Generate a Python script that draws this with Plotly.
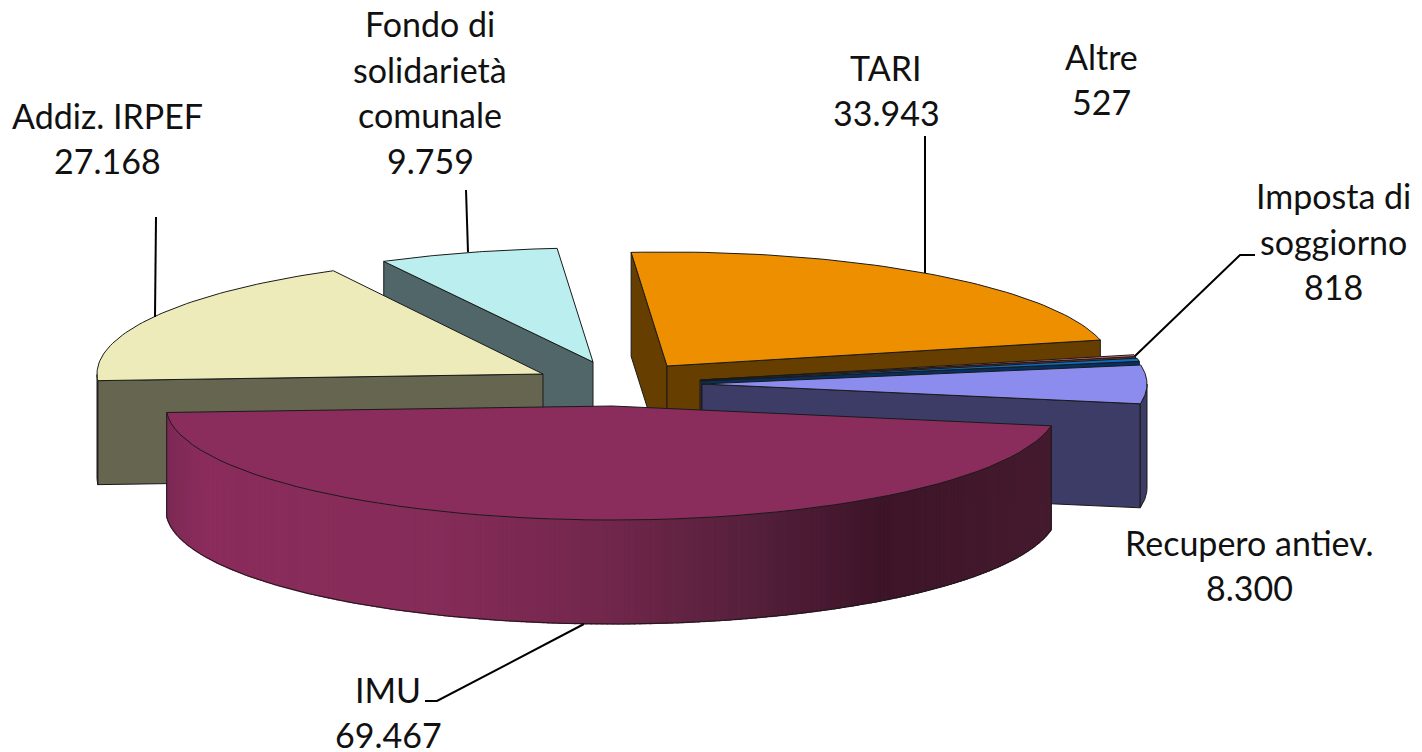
import math
import plotly.graph_objects as go

# ---- data ----
categories = ["IMU", "Addiz. IRPEF", "Fondo di solidarietà comunale", "TARI",
              "Altre", "Imposta di soggiorno", "Recupero antiev."]
values = [69467, 27168, 9759, 33943, 527, 818, 8300]
label_names = ["IMU", "Addiz. IRPEF", "Fondo di<br>solidarietà<br>comunale", "TARI",
               "Altre", "Imposta di<br>soggiorno", "Recupero antiev."]

# ---- styles / projection ----
START = -10.0           # angle where the first slice starts (clockwise)
DEPTH = 104.0
radius_x = [446, 446, 445, 445, 445, 445, 445]
radius_y = [114, 117, 114, 114, 114, 114, 114]
apex = [(612, 406), (543, 374), (593, 362), (667, 366), (700, 380), (701, 381), (702, 384)]
top_col = ["#8b2d5c", "#ecebb9", "#bbeeee", "#ee8f00", "#e57373", "#0a6ec4", "#8c8cee"]
side_col = ["#8b2d5c", "#656550", "#506668", "#663f00", "#6e3a3a", "#06305f", "#3c3c66"]
draw_order = [2, 1, 3, 4, 5, 6, 0]
label_pos = [(388, 712), (107, 138), (430, 92), (886, 90), (1101, 79), (1333, 241), (1249, 565)]
LINE_PITCH = 45.5
leaders = [
    ([584, 437, 425], [624, 701, 701]),
    ([155, 156], [317, 217]),
    ([468, 466], [252, 190]),
    ([925, 925], [273, 136]),
    ([1135, 1240, 1255], [356, 255, 255]),
]
grad_x = [167, 200, 430, 600, 750, 880, 1052]
grad_c = ["#7d2a55", "#8a2c5c", "#862c59", "#72274c", "#56203b", "#3d1428", "#451b2f"]

total = sum(values)
angles = []
a = START
for v in values:
    b = a - v / total * 360.0
    angles.append((a, b))
    a = b

EDGE = "#1a1a1a"


def pt(i, t):
    cx, cy = apex[i]
    r = math.radians(t)
    return cx + radius_x[i] * math.cos(r), cy - radius_y[i] * math.sin(r)


def arc(i, t0, t1, n=60):
    pts = [pt(i, t0 + (t1 - t0) * k / n) for k in range(n + 1)]
    return [p[0] for p in pts], [p[1] for p in pts]


def grad(x):
    def rgb(h):
        return [int(h[j:j + 2], 16) for j in (1, 3, 5)]
    for k in range(len(grad_x) - 1):
        if x <= grad_x[k + 1]:
            f = max(0, (x - grad_x[k]) / (grad_x[k + 1] - grad_x[k]))
            c0, c1 = rgb(grad_c[k]), rgb(grad_c[k + 1])
            return "rgb(%d,%d,%d)" % tuple(round(c0[j] + (c1[j] - c0[j]) * f) for j in range(3))
    return grad_c[-1]


fig = go.Figure()


def poly(xs, ys, fill, line=EDGE, w=1.0):
    fig.add_trace(go.Scatter(x=list(xs) + [xs[0]], y=list(ys) + [ys[0]], mode="lines", fill="toself",
                             fillcolor=fill, line=dict(color=line, width=w),
                             hoverinfo="skip", showlegend=False))


for i in draw_order:
    t0, t1 = angles[i]
    cx, cy = apex[i]
    ax, ay = arc(i, t0, t1)
    # cut faces turned towards the viewer
    if i != 0:
        if math.cos(math.radians(t0)) < 0:
            poly([cx, ax[0], ax[0], cx], [cy, ay[0], ay[0] + DEPTH, cy + DEPTH], side_col[i])
        if math.cos(math.radians(t1)) > 0:
            poly([cx, ax[-1], ax[-1], cx], [cy, ay[-1], ay[-1] + DEPTH, cy + DEPTH], side_col[i])
    # outer rim: the part of the arc on the viewer's side
    vis = [t for t in [t0 + (t1 - t0) * k / 240 for k in range(241)] if math.sin(math.radians(t)) <= 0]
    if i == 0:
        for k in range(len(vis) - 1):
            p, q = pt(i, vis[k]), pt(i, vis[k + 1])
            c = grad((p[0] + q[0]) / 2)
            poly([p[0], q[0], q[0], p[0]], [p[1], q[1], q[1] + DEPTH, p[1] + DEPTH], c, line=c, w=1.2)
        rx = [pt(i, t)[0] for t in vis]
        ry = [pt(i, t)[1] + DEPTH for t in vis]
        fig.add_trace(go.Scatter(x=[rx[0]] + rx + [rx[-1]], y=[ry[0] - DEPTH] + ry + [ry[-1] - DEPTH], mode="lines",
                                 line=dict(color=EDGE, width=1), hoverinfo="skip", showlegend=False))
    elif len(vis) > 1:
        rx = [pt(i, t)[0] for t in vis]
        ry = [pt(i, t)[1] for t in vis]
        poly(rx + rx[::-1], ry + [y + DEPTH for y in ry[::-1]], side_col[i])
    # top face
    poly([cx] + ax, [cy] + ay, top_col[i], w=1.0)

for xs, ys in leaders:
    fig.add_trace(go.Scatter(x=xs, y=ys, mode="lines", line=dict(color="black", width=2),
                             hoverinfo="skip", showlegend=False))

for name, v, (lx, ly) in zip(label_names, values, label_pos):
    lines = name.split("<br>") + [f"{v:,}".replace(",", ".")]
    for k, line in enumerate(lines):
        fig.add_annotation(x=lx, y=ly + (k - (len(lines) - 1) / 2) * LINE_PITCH, text=line, showarrow=False,
                           xanchor="center", yanchor="middle",
                           font=dict(family="Lato", size=34, color="#111111"), align="center")

fig.update_layout(width=1422, height=752, margin=dict(l=0, r=0, t=0, b=0), paper_bgcolor="white",
                  plot_bgcolor="white", showlegend=False,
                  xaxis=dict(range=[0, 1422], visible=False, fixedrange=True),
                  yaxis=dict(range=[752, 0], visible=False, fixedrange=True))
fig.write_html("out.html", config={"displayModeBar": False},
               post_script="document.body.style.margin='0';document.documentElement.style.overflow='hidden';")
